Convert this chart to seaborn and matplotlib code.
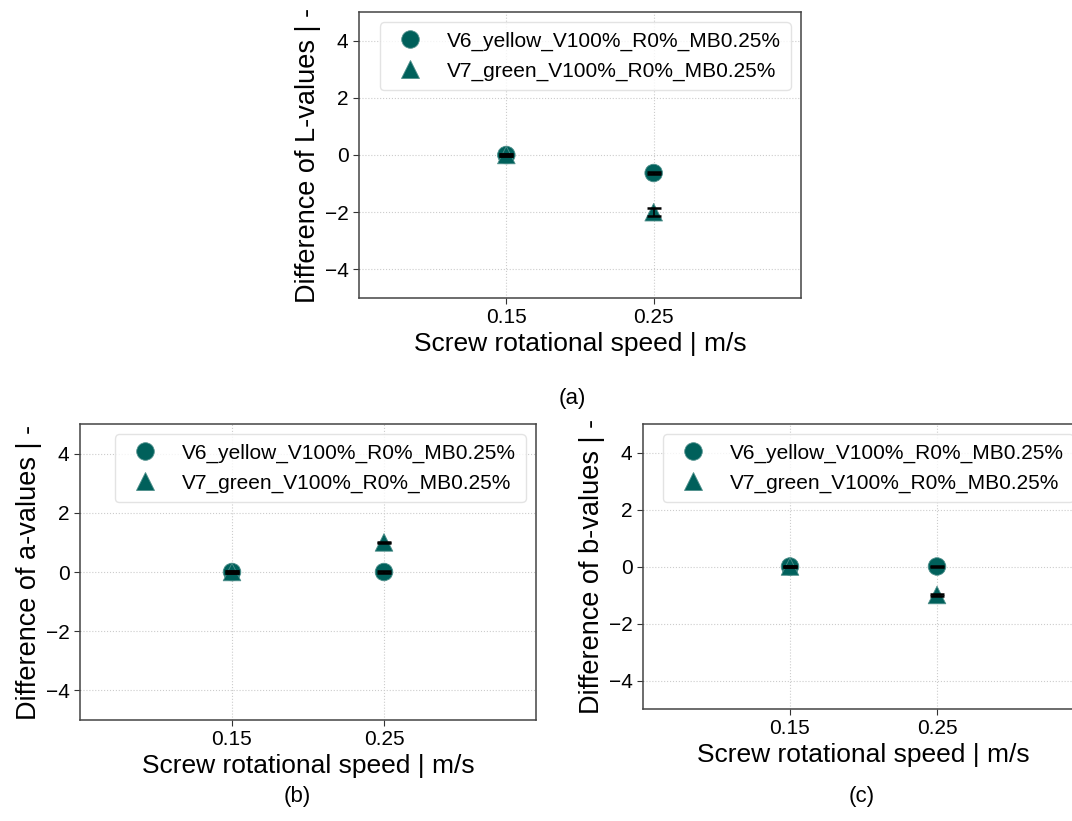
import matplotlib
matplotlib.use("Agg")
import matplotlib.pyplot as plt
import seaborn as sns
import pandas as pd
import numpy as np

speeds = [0.15, 0.25]
series = ["V6_yellow_V100%_R0%_MB0.25%", "V7_green_V100%_R0%_MB0.25%"]

L_v6 = [0.0, -0.63]
L_v7 = [0.0, -2.0]
L_v6_err = [0.03, 0.05]
L_v7_err = [0.03, 0.15]

a_v6 = [0.0, 0.0]
a_v7 = [0.0, 1.0]
a_v6_err = [0.02, 0.02]
a_v7_err = [0.02, 0.02]

b_v6 = [0.0, 0.0]
b_v7 = [0.0, -1.0]
b_v6_err = [0.02, 0.02]
b_v7_err = [0.02, 0.02]

panels = [
    ("L", L_v6, L_v7, L_v6_err, L_v7_err, "(a)"),
    ("a", a_v6, a_v7, a_v6_err, a_v7_err, "(b)"),
    ("b", b_v6, b_v7, b_v6_err, b_v7_err, "(c)"),
]

sns.set_style("ticks")
plt.rcParams["font.family"] = ["Liberation Sans", "DejaVu Sans"]
plt.rcParams["text.color"] = "black"
plt.rcParams["axes.labelcolor"] = "black"
plt.rcParams["xtick.color"] = "black"
plt.rcParams["ytick.color"] = "black"

COLOR = "#00605B"
W, H = 1072, 821
fig = plt.figure(figsize=(W / 100, H / 100), dpi=100)


def rect(x0, y0, x1, y1):
    return [x0 / W, 1 - y1 / H, (x1 - x0) / W, (y1 - y0) / H]


axes_rects = [rect(359, 12, 801, 298), rect(80, 424, 536, 720), rect(643, 424, 1084, 709)]
label_pos = [(572, 398), (297, 796), (862, 796)]

for (name, v6, v7, e6, e7, tag), r, lp in zip(panels, axes_rects, label_pos):
    ax = fig.add_axes(r)
    df = pd.DataFrame({
        "speed": speeds * 2,
        "value": list(v6) + list(v7),
        "err": list(e6) + list(e7),
        "series": [series[0]] * 2 + [series[1]] * 2,
    })
    sns.scatterplot(data=df, x="speed", y="value", style="series",
                    markers={series[0]: "o", series[1]: "^"},
                    color=COLOR, s=160, edgecolor="#4f8f8b", linewidth=0.6,
                    ax=ax, zorder=3)
    ax.errorbar(df["speed"], df["value"], yerr=df["err"], fmt="none",
                ecolor="black", elinewidth=1.2, capsize=5, capthick=1.8, zorder=4)
    ax.set_xlim(0.05, 0.35)
    ax.set_ylim(-5, 5)
    ax.set_xticks(speeds)
    ax.set_xticklabels([f"{s:.2f}" for s in speeds])
    ax.set_yticks([-4, -2, 0, 2, 4])
    ax.set_yticklabels(["\u22124", "\u22122", "0", "2", "4"])
    ax.tick_params(labelsize=15, length=4, color="#333333")
    ax.grid(True, linestyle=":", color="#cccccc", linewidth=0.8)
    for sp in ax.spines.values():
        sp.set_color("#444444")
        sp.set_linewidth(1.1)
    ax.set_xlabel("Screw rotational speed | m/s", fontsize=19, labelpad=3)
    ax.set_ylabel(f"Difference of {name}-values | -", fontsize=19.5, labelpad=3)
    leg = ax.legend(loc="upper right", fontsize=15, frameon=True, fancybox=True,
                    handletextpad=0.8, borderpad=0.45, labelspacing=0.5,
                    markerscale=1.0)
    leg.get_frame().set_edgecolor("#dddddd")
    fig.text(lp[0] / W, 1 - lp[1] / H, tag, fontsize=16, ha="center", va="center")

fig.savefig("out.png", dpi=100)
